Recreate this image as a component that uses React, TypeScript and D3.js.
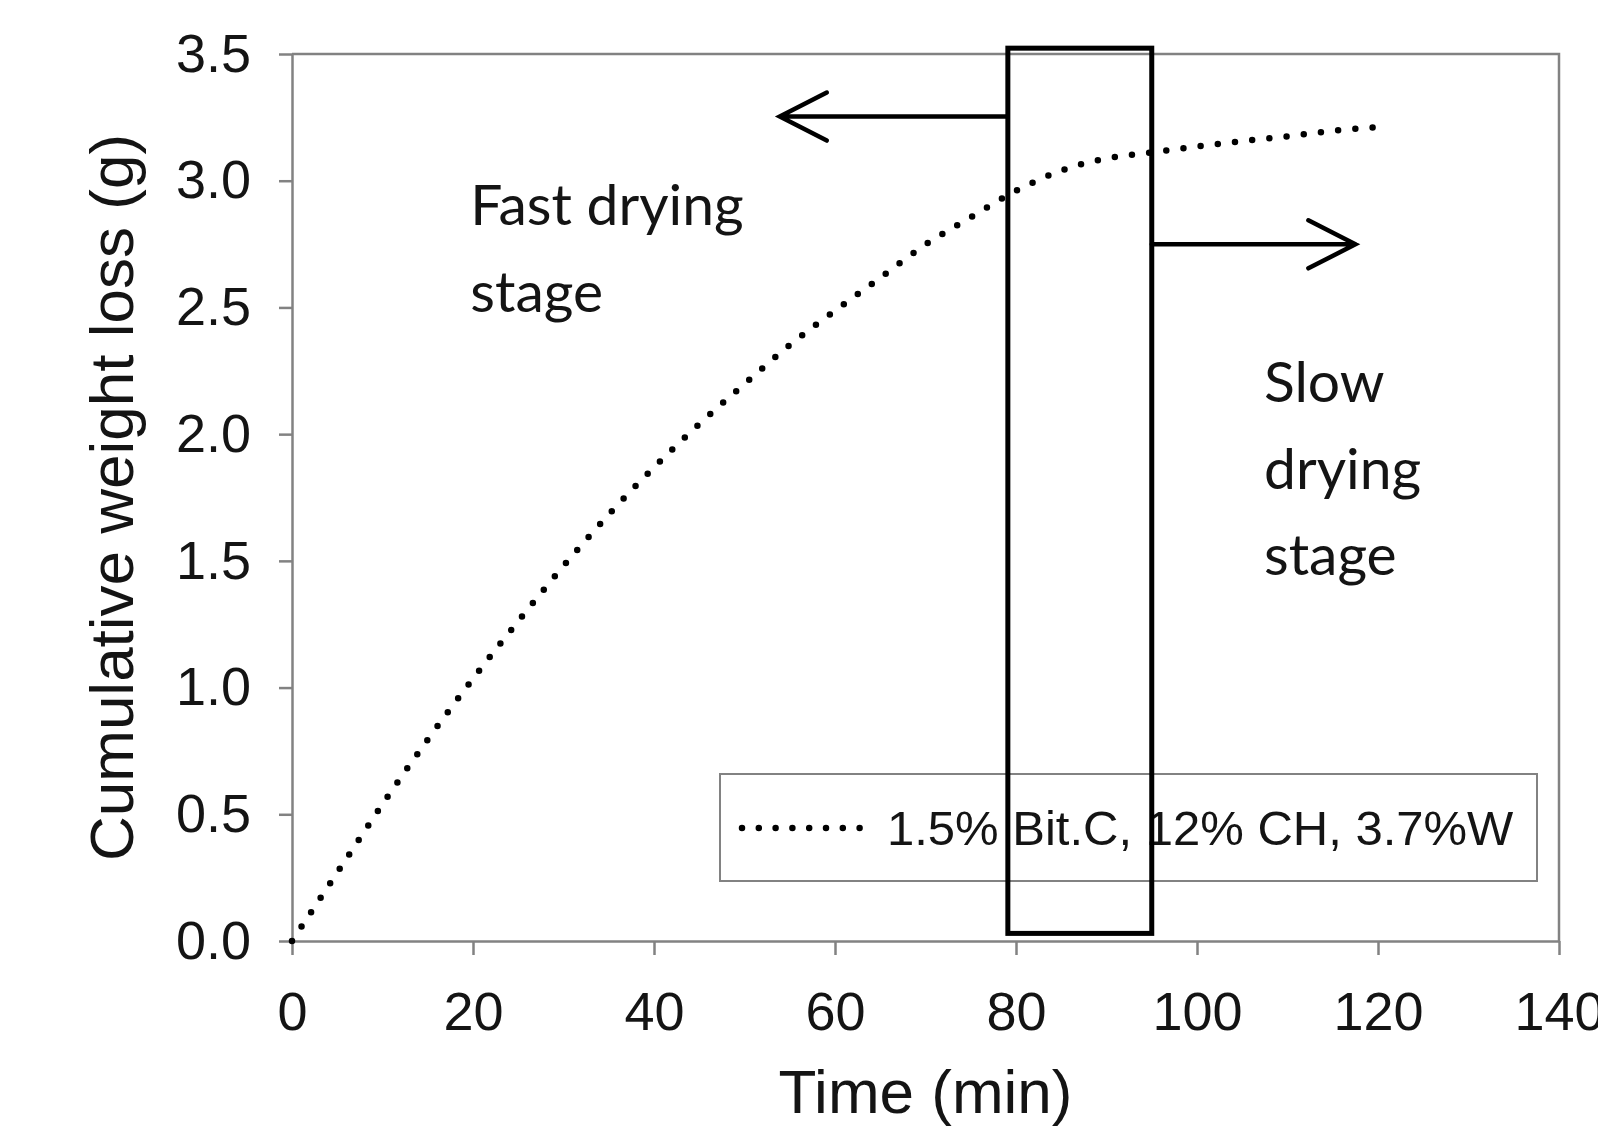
import React, { useEffect, useRef } from "react";
import * as d3 from "d3";

// cumulative weight loss
const times = [0, 5, 10, 15, 20, 25, 30, 35, 40, 45, 50, 55, 60, 65, 70, 75, 80, 85, 90, 95, 100, 105, 110, 115, 120];
const weightLoss = [0, 0.27, 0.54, 0.795, 1.035, 1.262, 1.48, 1.683, 1.869, 2.04, 2.198, 2.352, 2.487, 2.617, 2.748, 2.856, 2.96, 3.04, 3.088, 3.112, 3.135, 3.156, 3.175, 3.197, 3.212];

const xTicks = [0, 20, 40, 60, 80, 100, 120, 140];
const yTicks = [0, 0.5, 1.0, 1.5, 2.0, 2.5, 3.0, 3.5];

const seriesLabel = "1.5% Bit.C, 12% CH, 3.7%W";
const xTitle = "Time (min)";
const yTitle = "Cumulative weight loss (g)";

// transition window (min) and the two stage notes
const transitionWindow = [79.1, 95];
const transitionSpan = [0.03, 3.523];
const fastStage = ["Fast drying", "stage"];
const slowStage = ["Slow", "drying", "stage"];

const App = () => {
  const ref = useRef<SVGSVGElement>(null);

  useEffect(() => {
    document.body.style.margin = "0";
    const width = 1598;
    const height = 1130;
    const margin = { top: 54, right: 39, bottom: 189, left: 292 };
    const axisColor = "#828282";
    const textColor = "#141414";
    const arial = "'Liberation Sans', Arial, sans-serif";
    const calibri = "Lato, 'Open Sans', sans-serif";

    const svg = d3.select(ref.current);
    svg.selectAll("*").remove();
    svg.attr("width", width).attr("height", height);

    const x = d3.scaleLinear().domain([0, 140]).range([margin.left, width - margin.right]);
    const y = d3.scaleLinear().domain([0, 3.5]).range([height - margin.bottom, margin.top]);

    // frame top / right
    svg
      .append("path")
      .attr("d", `M${x(0)},${y(3.5)}H${x(140)}V${y(0)}`)
      .attr("fill", "none")
      .attr("stroke", axisColor)
      .attr("stroke-width", 2.5);

    const xAxis = svg
      .append("g")
      .attr("transform", `translate(0,${y(0)})`)
      .call(
        d3
          .axisBottom(x)
          .tickValues(xTicks)
          .tickSize(14)
          .tickSizeOuter(0)
          .tickPadding(37)
          .tickFormat(d3.format("d"))
      );

    const yAxis = svg
      .append("g")
      .attr("transform", `translate(${x(0)},0)`)
      .call(
        d3
          .axisLeft(y)
          .tickValues(yTicks)
          .tickSize(13)
          .tickSizeOuter(0)
          .tickPadding(28)
          .tickFormat(d3.format(".1f"))
      );

    [xAxis, yAxis].forEach((g) => {
      g.select(".domain").attr("stroke", axisColor).attr("stroke-width", 2.5);
      g.selectAll(".tick line").attr("stroke", axisColor).attr("stroke-width", 2.5);
      g.selectAll(".tick text")
        .attr("fill", textColor)
        .style("font-family", arial)
        .style("font-size", "54px");
    });

    // axis titles
    svg
      .append("text")
      .attr("x", (x(0) + x(140)) / 2)
      .attr("y", 1113)
      .attr("text-anchor", "middle")
      .attr("fill", textColor)
      .style("font-family", arial)
      .style("font-size", "62px")
      .text(xTitle);

    svg
      .append("text")
      .attr("transform", `translate(133,${(y(0) + y(3.5)) / 2}) rotate(-90)`)
      .attr("text-anchor", "middle")
      .attr("fill", textColor)
      .style("font-family", arial)
      .style("font-size", "62px")
      .text(yTitle);

    // dotted series
    const data = times.map((t, i) => ({ t, v: weightLoss[i] }));
    const line = d3
      .line<{ t: number; v: number }>()
      .x((d) => x(d.t))
      .y((d) => y(d.v))
      .curve(d3.curveMonotoneX);

    const dotStyle = (sel: any) =>
      sel
        .attr("fill", "none")
        .attr("stroke", "#000")
        .attr("stroke-width", 6.5)
        .attr("stroke-linecap", "round")
        .attr("stroke-dasharray", "0 17.3");

    svg.append("path").datum(data).attr("d", line).call(dotStyle);

    // legend
    const legend = svg.append("g").attr("transform", `translate(720,774)`);
    legend
      .append("rect")
      .attr("width", 817)
      .attr("height", 107)
      .attr("fill", "#fff")
      .attr("stroke", axisColor)
      .attr("stroke-width", 2);
    legend
      .append("path")
      .attr("d", "M22,54H142")
      .call(dotStyle)
      .attr("stroke-dasharray", "0 16.8");
    legend
      .append("text")
      .attr("x", 167)
      .attr("y", 71)
      .attr("fill", textColor)
      .style("font-family", arial)
      .style("font-size", "49px")
      .text(seriesLabel);

    // transition window box
    svg
      .append("rect")
      .attr("x", x(transitionWindow[0]))
      .attr("y", y(transitionSpan[1]))
      .attr("width", x(transitionWindow[1]) - x(transitionWindow[0]))
      .attr("height", y(transitionSpan[0]) - y(transitionSpan[1]))
      .attr("fill", "none")
      .attr("stroke", "#000")
      .attr("stroke-width", 5);

    // arrows
    const arrow = (from: number, to: number, level: number) => {
      const x0 = x(from);
      const x1 = x(to);
      const yy = y(level);
      const dir = x1 > x0 ? -1 : 1;
      svg
        .append("path")
        .attr(
          "d",
          `M${x0},${yy}H${x1}M${x1 + dir * 47},${yy - 24}L${x1},${yy}L${x1 + dir * 47},${yy + 24}`
        )
        .attr("fill", "none")
        .attr("stroke", "#000")
        .attr("stroke-width", 4.5)
        .attr("stroke-linecap", "round")
        .attr("stroke-linejoin", "miter");
    };
    arrow(transitionWindow[0], 53.9, 3.253);
    arrow(transitionWindow[1], 117.5, 2.749);

    // stage notes
    const note = (lines: string[], tx: number, tv: number) => {
      const t = svg
        .append("text")
        .attr("fill", textColor)
        .style("font-family", calibri)
        .style("font-size", "57px");
      lines.forEach((s, i) => {
        t.append("tspan")
          .attr("x", x(tx))
          .attr("y", y(tv) + i * 86.7)
          .text(s);
      });
    };
    note(fastStage, 19.7, 2.824);
    note(slowStage, 107.4, 2.127);
  }, []);

  return <svg ref={ref} style={{ display: "block" }}></svg>;
};

export default App;
